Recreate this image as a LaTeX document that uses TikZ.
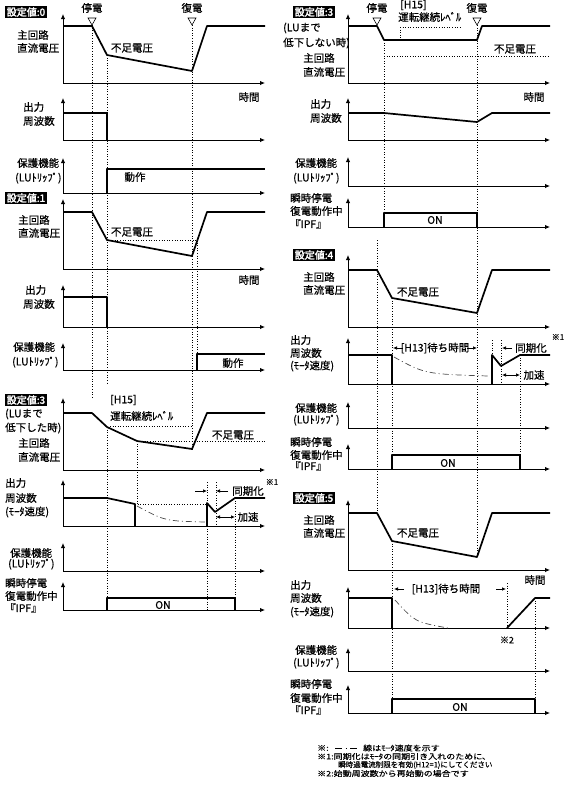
\documentclass[tikz,border=0pt]{standalone}
\usepackage{fontspec}
\setmainfont{Noto Sans CJK JP}[FakeBold=0.5]
\newfontfamily\jpbold{Noto Sans CJK JP}[FakeBold=2.5]
\newfontfamily\jpwide{Noto Sans CJK JP}[FakeStretch=1.2,FakeBold=0.4]
\newfontfamily\jpnote{Noto Sans CJK JP}[FakeBold=0.4]
\usetikzlibrary{arrows.meta}
\newcommand\lw[4]{\node[lwst] (#1) at (#2,#3) {#4};}
\newcommand\lc[4]{\node[lcst] (#1) at (#2,#3) {#4};}
\newcommand\axs[4]{\draw[axl] (#1,#3) -- (#1,#2); \draw[axl] (#1,#3) -- (#4,#3);}
\newcommand\tri[1]{\draw[line width=0.6pt] (#1-4,18) -- (#1+4,18) -- (#1,25) -- cycle;}
\begin{document}
\begin{tikzpicture}[x=1pt,y=-1pt,
 axl/.style={line width=0.9pt,-{Latex[length=5pt,width=4.5pt]}},
 sigline/.style={line width=1.7pt,line join=round},
 dotl/.style={line width=0.7pt,dash pattern=on 0.8pt off 1.8pt},
 ddl/.style={line width=0.7pt,black!70,dash pattern=on 6pt off 3pt on 1pt off 3pt},
 lwst/.style={anchor=west,inner sep=0pt,font=\fontsize{10.5}{11}\selectfont},
 lcst/.style={inner sep=0pt,font=\fontsize{10.5}{11}\selectfont},
 settag/.style={fill=black,text=white,inner sep=1.5pt,font=\jpbold\fontsize{10}{10}\selectfont},
 annl/.style={line width=0.7pt,-{Latex[length=4pt,width=3.5pt]}},
 annb/.style={line width=0.7pt,{Latex[length=4pt,width=3.5pt]}-{Latex[length=4pt,width=3.5pt]}},
 small/.style={inner sep=0pt,font=\fontsize{8}{8}\selectfont},
 note/.style={inner sep=0pt,anchor=west,font=\jpwide\fontsize{7.5}{7.5}\selectfont}]
\useasboundingbox (0,0) rectangle (570,796);

% ================= dotted guide lines =================
% left column
\draw[dotl] (92,25) -- (92,398);
\draw[dotl] (107,55) -- (107,385);
\draw[dotl] (192,25) -- (192,449);
\draw[dotl] (107,240) -- (197,240);
\draw[dotl] (197,240) -- (197,354);
\draw[dotl] (110,426) -- (192,426);
\draw[dotl] (137,441) -- (265,441);
\draw[dotl] (137,441) -- (137,504);
\draw[dotl] (107,427) -- (107,598);
\draw[dotl] (135,504) -- (207,504);
\draw[dotl] (207,482) -- (207,610);
\draw[dotl] (216,482) -- (216,526);
\draw[dotl] (235,498) -- (235,598);
% right column
\draw[dotl] (384,40) -- (384,213);
\draw[dotl] (477,25) -- (477,556);
\draw[dotl] (400,27) -- (460,27);
\draw[dotl] (400,27) -- (400,38);
\draw[dotl] (384,56) -- (550,56);
\draw[dotl] (377,240) -- (377,512);
\draw[dotl] (392,298) -- (392,455);
\draw[dotl] (492,340) -- (492,384);
\draw[dotl] (501,340) -- (501,384);
\draw[dotl] (520,355) -- (520,455);
\draw[dotl] (507,583) -- (507,628);
\draw[dotl] (535,598) -- (535,699);
\draw[dotl] (392,541) -- (392,699);

% ================= LEFT: setting 0 =================
\node[settag] (t0) at (26,12) {設定値:0};
\lc{l0a}{92}{8}{停電} \tri{92}
\lc{l0b}{192}{8}{復電} \tri{192}
\axs{63}{14}{83}{265}
\draw[sigline] (63,26) -- (92,26) -- (107,55) -- (192,71) -- (207,26) -- (265,26);
\lc{l0c}{132}{48}{不足電圧}
\lw{l0d}{17}{35}{主回路}
\lw{l0e}{17}{48}{直流電圧}
\lc{l0f}{249}{97}{時間}
\axs{63}{98}{140}{265}
\draw[sigline] (63,113) -- (107,113) -- (107,140);
\lw{l0g}{23}{107}{出力}
\lw{l0h}{23}{121}{周波数}
\axs{63}{158}{193}{265}
\draw[sigline] (107,193) -- (107,169) -- (265,169);
\lc{l0i}{135}{177}{動作}
\lw{l0j}{17}{163}{保護機能}
\lw{l0k}{15}{178}{(LUﾄﾘｯﾌﾟ)}

% ================= LEFT: setting 1 =================
\node[settag] (t1) at (26,198) {設定値:1};
\axs{63}{199}{269}{265}
\draw[sigline] (63,212) -- (92,212) -- (107,240) -- (192,256) -- (207,212) -- (265,212);
\lc{l1c}{132}{232}{不足電圧}
\lw{l1d}{18}{220}{主回路}
\lw{l1e}{18}{233}{直流電圧}
\lc{l1f}{249}{280}{時間}
\axs{63}{285}{327}{265}
\draw[sigline] (63,297) -- (107,297) -- (107,327);
\lw{l1g}{25}{290}{出力}
\lw{l1h}{23}{304}{周波数}
\axs{63}{343}{370}{265}
\draw[sigline] (197,370) -- (197,354) -- (265,354);
\lc{l1i}{233}{363}{動作}
\lw{l1j}{13}{347}{保護機能}
\lw{l1k}{12}{362}{(LUﾄﾘｯﾌﾟ)}

% ================= LEFT: setting 3 (LU reached) =================
\node[settag] (t3) at (26,400) {設定値:3};
\axs{63}{398}{470}{265}
\draw[sigline] (63,413) -- (92,413) -- (107,427) -- (137,441) -- (192,449) -- (207,413) -- (265,413);
\lw{l3a}{110}{400}{[H15]}
\lw{l3b}{110}{416}{運転継続ﾚﾍﾞﾙ}
\lc{l3c}{233}{435}{不足電圧}
\lw{l3d}{5}{414}{(LUまで}
\lw{l3e}{5}{428}{低下した時)}
\lw{l3f}{18}{443}{主回路}
\lw{l3g}{18}{457}{直流電圧}
\axs{63}{480}{526}{265}
\draw[ddl] (137,506) .. controls (165,521) .. (205,522);
\draw[sigline] (63,498) -- (107,498) -- (135,504) -- (135,526);
\draw[sigline] (207,526) -- (207,503) -- (215,512) -- (235,498) -- (265,498);
\coordinate (l3p1) at (195,491); \coordinate (l3p2) at (207,491);
\coordinate (l3p3) at (228,491); \coordinate (l3p4) at (216,491);
\draw[annl] (l3p1) -- (l3p2);
\draw[annl] (l3p3) -- (l3p4);
\lc{l3h}{248}{491}{同期化}
\node[small] (l3i) at (272,482) {※1};
\coordinate (l3p5) at (216,517); \coordinate (l3p6) at (235,517);
\draw[annb] (l3p5) -- (l3p6);
\lc{l3j}{248}{517}{加速}
\lw{l3k}{5}{483}{出力}
\lw{l3l}{5}{498}{周波数}
\lw{l3m}{5}{512}{(ﾓｰﾀ速度)}
\axs{63}{543}{571}{265}
\lw{l3n}{10}{553}{保護機能}
\lw{l3o}{8}{564}{(LUﾄﾘｯﾌﾟ)}
\axs{63}{582}{610}{265}
\draw[sigline] (107,610) -- (107,598) -- (235,598) -- (235,610);
\lc{l3p}{163}{605}{ON}
\lw{l3q}{5}{583}{瞬時停電}
\lw{l3r}{5}{596}{復電動作中}
\lw{l3s}{5}{608}{『IPF』}

% ================= RIGHT: setting 3 (LU not reached) =================
\node[settag] (t3r) at (314,12) {設定値:3};
\lc{r3a}{377}{8}{停電} \tri{377}
\lc{r3b}{477}{8}{復電} \tri{477}
\axs{348}{14}{83}{550}
\draw[sigline] (348,26) -- (377,26) -- (384,40) -- (477,40) -- (482,26) -- (550,26);
\lw{r3c}{400}{5}{[H15]}
\lw{r3d}{398}{17}{運転継続ﾚﾍﾞﾙ}
\lc{r3e}{515}{49}{不足電圧}
\lw{r3f}{283}{28}{(LUまで}
\lw{r3g}{283}{43}{低下しない時)}
\lw{r3h}{303}{58}{主回路}
\lw{r3i}{303}{72}{直流電圧}
\lc{r3j}{534}{97}{時間}
\axs{348}{98}{140}{550}
\draw[sigline] (348,113) -- (384,113) -- (477,122) -- (492,113) -- (550,113);
\lw{r3k}{310}{104}{出力}
\lw{r3l}{310}{118}{周波数}
\axs{348}{157}{186}{550}
\lw{r3m}{295}{163}{保護機能}
\lw{r3n}{293}{178}{(LUﾄﾘｯﾌﾟ)}
\axs{348}{198}{227}{550}
\draw[sigline] (384,227) -- (384,213) -- (477,213) -- (477,227);
\lc{r3o}{435}{220}{ON}
\lw{r3p}{290}{198}{瞬時停電}
\lw{r3q}{290}{211}{復電動作中}
\lw{r3r}{290}{224}{『IPF』}

% ================= RIGHT: setting 4 =================
\node[settag] (t4) at (314,255) {設定値:4};
\axs{348}{255}{327}{550}
\draw[sigline] (348,270) -- (377,270) -- (392,298) -- (477,313) -- (492,270) -- (550,270);
\lc{r4a}{418}{292}{不足電圧}
\lw{r4b}{303}{277}{主回路}
\lw{r4c}{303}{290}{直流電圧}
\axs{348}{338}{384}{550}
\draw[ddl] (394,357) .. controls (425,374) .. (488,376);
\draw[sigline] (348,355) -- (392,355) -- (392,384);
\draw[sigline] (492,384) -- (492,355) -- (501,366) -- (520,355) -- (550,355);
\coordinate (r4p1) at (403,348); \coordinate (r4p2) at (393,348);
\coordinate (r4p3) at (467,348); \coordinate (r4p4) at (477,348);
\draw[annl] (r4p1) -- (r4p2);
\draw[annl] (r4p3) -- (r4p4);
\lc{r4d}{435}{348}{[H13]待ち時間}
\coordinate (r4p5) at (512,348); \coordinate (r4p6) at (502,348);
\draw[annl] (r4p5) -- (r4p6);
\lc{r4e}{531}{348}{同期化}
\node[small] (r4f) at (558,337) {※1};
\coordinate (r4p7) at (502,375); \coordinate (r4p8) at (520,375);
\draw[annb] (r4p7) -- (r4p8);
\lc{r4g}{534}{375}{加速}
\lw{r4h}{290}{340}{出力}
\lw{r4i}{290}{353}{周波数}
\lw{r4j}{290}{366}{(ﾓｰﾀ速度)}
\axs{348}{402}{428}{550}
\lw{r4k}{295}{408}{保護機能}
\lw{r4l}{293}{420}{(LUﾄﾘｯﾌﾟ)}
\axs{348}{444}{469}{550}
\draw[sigline] (392,469) -- (392,455) -- (520,455) -- (520,469);
\lc{r4m}{448}{463}{ON}
\lw{r4n}{290}{442}{瞬時停電}
\lw{r4o}{290}{455}{復電動作中}
\lw{r4p}{290}{466}{『IPF』}

% ================= RIGHT: setting 5 =================
\node[settag] (t5) at (314,498) {設定値:5};
\axs{348}{500}{570}{550}
\draw[sigline] (348,513) -- (377,513) -- (392,541) -- (477,557) -- (492,513) -- (550,513);
\lc{r5a}{418}{533}{不足電圧}
\lw{r5b}{303}{520}{主回路}
\lw{r5c}{303}{533}{直流電圧}
\lc{r5d}{535}{580}{時間}
\axs{348}{587}{628}{550}
\draw[ddl] (395,600) .. controls (415,622) .. (448,628);
\draw[sigline] (348,598) -- (392,598) -- (392,628);
\draw[sigline] (507,628) -- (535,598) -- (550,598);
\coordinate (r5p1) at (404,589); \coordinate (r5p2) at (394,589);
\coordinate (r5p3) at (496,589); \coordinate (r5p4) at (506,589);
\draw[annl] (r5p1) -- (r5p2);
\draw[annl] (r5p3) -- (r5p4);
\lc{r5e}{446}{589}{[H13]待ち時間}
\node[small,font=\fontsize{9}{9}\selectfont] (r5f) at (507,640) {※2};
\lw{r5g}{290}{585}{出力}
\lw{r5h}{290}{598}{周波数}
\lw{r5i}{290}{612}{(ﾓｰﾀ速度)}
\axs{348}{648}{671}{550}
\lw{r5j}{295}{650}{保護機能}
\lw{r5k}{293}{663}{(LUﾄﾘｯﾌﾟ)}
\axs{348}{685}{713}{550}
\draw[sigline] (392,713) -- (392,699) -- (535,699) -- (535,713);
\lc{r5l}{460}{707}{ON}
\lw{r5m}{290}{684}{瞬時停電}
\lw{r5n}{290}{698}{復電動作中}
\lw{r5o}{290}{710}{『IPF』}

% ================= notes =================
\node[note] (n1) at (317,748) {※:};
\coordinate (n1a) at (335,748); \coordinate (n1b) at (357,748);
\draw[line width=0.8pt,dash pattern=on 7pt off 3.5pt on 1pt off 3.5pt] (n1a) -- (n1b);
\node[note] (n1c) at (363,748) {線はﾓｰﾀ速度を示す};
\node[note] (n2) at (317,756.5) {※1:同期化はﾓｰﾀの同期引き入れのために、};
\node[note,font=\jpnote\fontsize{7.5}{7.5}\selectfont] (n3) at (338,765) {瞬時過電流制限を有効(H12=1)にしてください};
\node[note] (n4) at (317,773.5) {※2:始動周波数から再始動の場合です};
\end{tikzpicture}
\end{document}
